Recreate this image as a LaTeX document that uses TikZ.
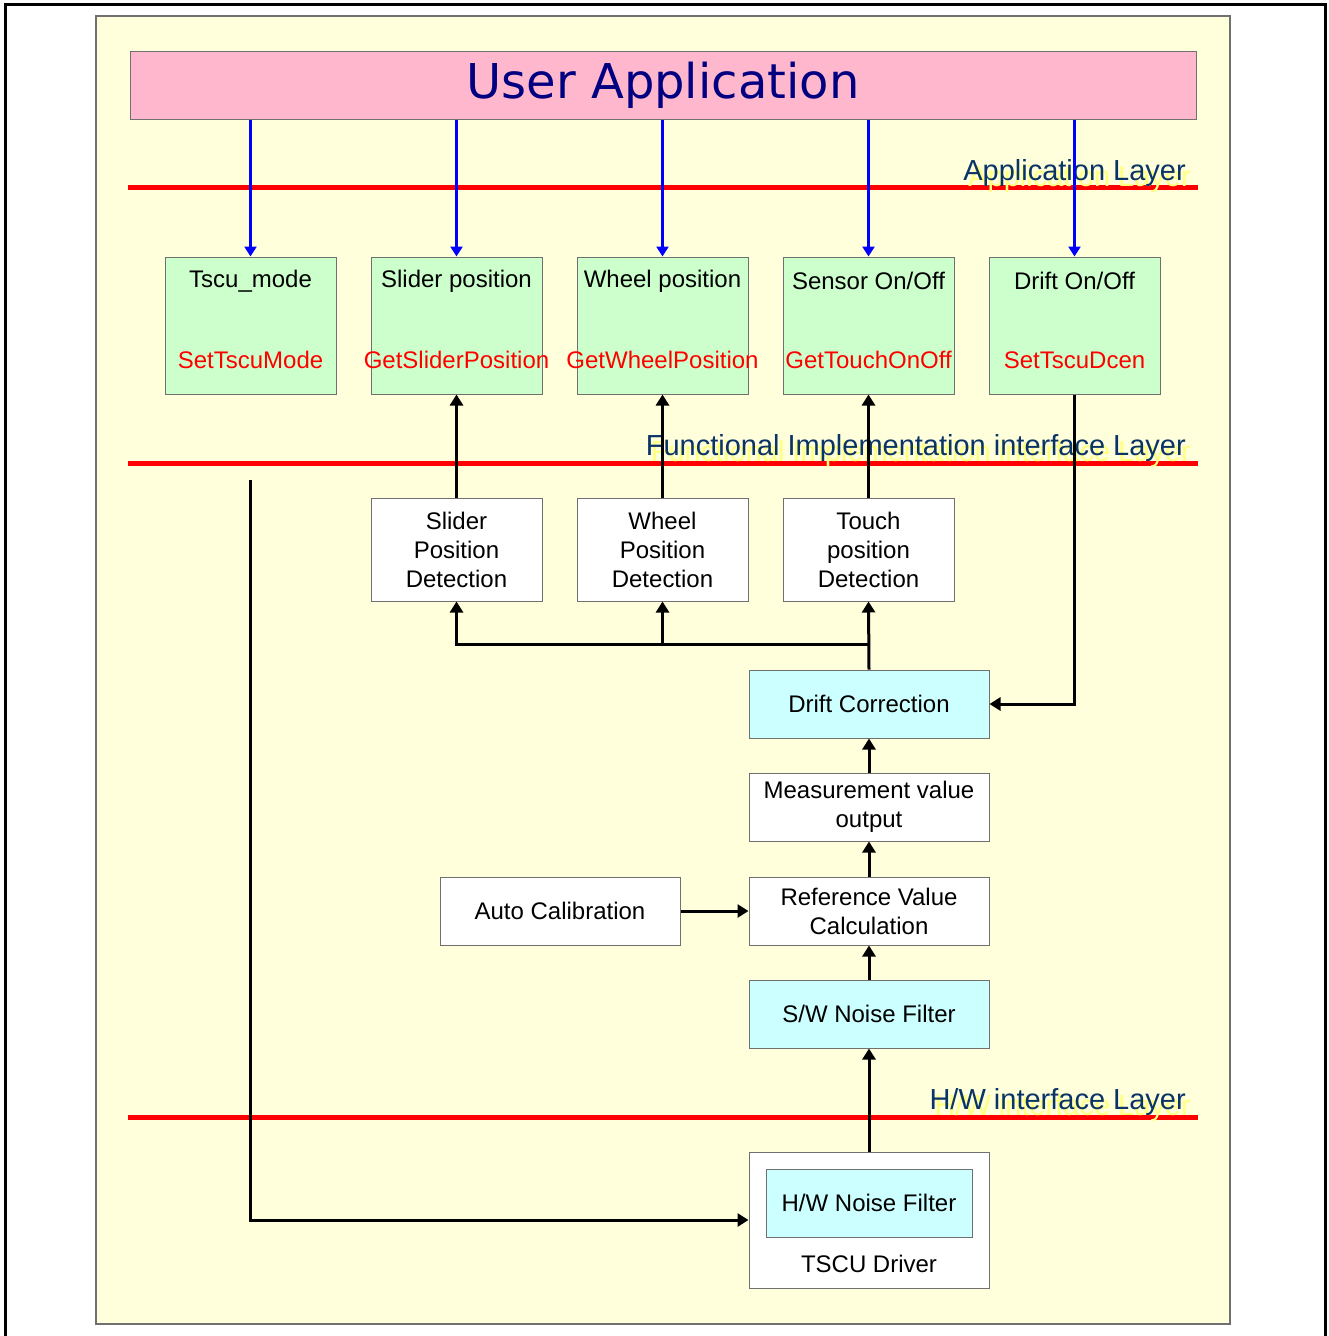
\documentclass[tikz,border=0pt]{standalone}
\usepackage{fontspec}
\setmainfont{Liberation Sans}
\newfontfamily\titlefont{DejaVu Sans}
\usetikzlibrary{arrows.meta}
\definecolor{bgyellow}{HTML}{FFFFDC}
\definecolor{apppink}{HTML}{FFB7CE}
\definecolor{fngreen}{HTML}{CCFFCC}
\definecolor{procyan}{HTML}{CCFFFF}
\definecolor{boxgray}{HTML}{707070}
\definecolor{layerblue}{HTML}{0A3366}
\definecolor{layershade}{HTML}{FFFF80}
\tikzset{%
    txt/.style={font=\fontsize{24}{29}\selectfont, inner sep=0pt}
}

\begin{document}
\begin{tikzpicture}[x=1pt,y=-1pt,
        box/.style={draw=boxgray,line width=1pt,inner sep=0pt},
        fnbox/.style={box,fill=fngreen,minimum width=171pt,minimum height=137pt},
        detbox/.style={box,fill=white,minimum width=171pt,minimum height=103pt,txt,align=center},
        probox/.style={box,minimum width=240pt,minimum height=68pt,txt,align=center},
        fnname/.style={txt,text=red},
        layer/.style={font=\fontsize{29}{31}\selectfont,text=layerblue,anchor=base east,inner sep=0pt},
        layershadow/.style={layer,text=layershade},
        sep/.style={red,line width=5pt},
        uarrow/.style={blue,line width=2.7pt,-{Triangle[length=10pt,width=12pt]}},
        conn/.style={black,line width=3pt,-{Triangle[length=11pt,width=13pt]}}
        ]
        \useasboundingbox (0,0) rectangle (1328,1336);
        \draw[line width=3pt] (5,4) rectangle (1325,1345);
        \draw[fill=bgyellow,draw=boxgray,line width=1.5pt] (96,16) rectangle (1230,1324);

        % user application
        \node[box,fill=apppink,minimum width=1066pt,minimum height=68pt,
            font=\titlefont\fontsize{48}{52}\selectfont,text=blue!50!black] (userapp) at (663,85) {User Application};

        % layer separators
        \draw[sep] (128,187) -- (1198,187);
        \draw[sep] (128,463) -- (1198,463);
        \draw[sep] (128,1117) -- (1198,1117);
        \node[layershadow] at (1191,186) {Application Layer};
        \node[layer] at (1186,180) {Application Layer};
        \node[layershadow] at (1191,461) {Functional Implementation interface Layer};
        \node[layer] at (1186,455) {Functional Implementation interface Layer};
        \node[layershadow] at (1191,1115) {H/W interface Layer};
        \node[layer] at (1186,1109) {H/W interface Layer};

        % functional interface boxes
        \node[fnbox] (tscu) at (250.5,325.5) {};
        \node[fnbox] (slider) at (456.5,325.5) {};
        \node[fnbox] (wheel) at (662.5,325.5) {};
        \node[fnbox] (sensor) at (868.5,325.5) {};
        \node[fnbox] (driftoo) at (1074.5,325.5) {};
        \node[txt] (tscut) at (250.5,281) {Tscu\_mode};
        \node[txt] (slidert) at (456.5,281) {Slider position};
        \node[txt] (wheelt) at (662.5,281) {Wheel position};
        \node[txt] (sensort) at (868.5,281) {Sensor On/Off};
        \node[txt] (driftoot) at (1074.5,281) {Drift On/Off};
        \node[fnname] (tscuf) at (250.5,360) {SetTscuMode};
        \node[fnname] (sliderf) at (456.5,360) {GetSliderPosition};
        \node[fnname] (wheelf) at (662.5,360) {GetWheelPosition};
        \node[fnname] (sensorf) at (868.5,360) {GetTouchOnOff};
        \node[fnname] (driftoof) at (1074.5,360) {SetTscuDcen};

        % detection blocks
        \node[detbox] (sliderdet) at (456.5,549.5) {Slider\\Position\\Detection};
        \node[detbox] (wheeldet) at (662.5,549.5) {Wheel\\Position\\Detection};
        \node[detbox] (touchdet) at (868.5,549.5) {Touch\\position\\Detection};

        % processing chain
        \node[probox,fill=procyan] (drift) at (869,704) {Drift Correction};
        \node[probox,fill=white] (measure) at (869,807) {Measurement value\\output};
        \node[probox,fill=white] (refcalc) at (869,911) {Reference Value\\Calculation};
        \node[probox,fill=white] (autocal) at (560,911) {Auto Calibration};
        \node[probox,fill=procyan] (swfilter) at (869,1014) {S/W Noise Filter};
        \node[box,fill=white,minimum width=240pt,minimum height=136pt] (driver) at (869,1220) {};
        \node[box,fill=procyan,minimum width=206pt,minimum height=68pt,txt] (hwfilter) at (869,1203) {H/W Noise Filter};
        \node[txt] (drivert) at (869,1264) {TSCU Driver};

        % application calls
        \draw[uarrow] (userapp.south -| tscu.north) -- (tscu.north);
        \draw[uarrow] (userapp.south -| slider.north) -- (slider.north);
        \draw[uarrow] (userapp.south -| wheel.north) -- (wheel.north);
        \draw[uarrow] (userapp.south -| sensor.north) -- (sensor.north);
        \draw[uarrow] (userapp.south -| driftoo.north) -- (driftoo.north);

        % data flow
        \coordinate (bus) at (869,644);
        \coordinate (modeline) at (250,480);
        \draw[conn] (sliderdet.north) -- (slider.south);
        \draw[conn] (wheeldet.north) -- (wheel.south);
        \draw[conn] (touchdet.north) -- (sensor.south);
        \draw[conn] (drift.north) -- (touchdet.south);
        \draw[conn] (bus) -| (sliderdet.south);
        \draw[conn] (bus -| wheeldet.south) -- (wheeldet.south);
        \draw[conn] (driftoo.south) |- (drift.east);
        \draw[conn] (measure.north) -- (drift.south);
        \draw[conn] (refcalc.north) -- (measure.south);
        \draw[conn] (autocal.east) -- (refcalc.west);
        \draw[conn] (swfilter.north) -- (refcalc.south);
        \draw[conn] (driver.north) -- (swfilter.south);
        \draw[conn] (modeline) |- (driver.west);
    \end{tikzpicture}
\end{document}
